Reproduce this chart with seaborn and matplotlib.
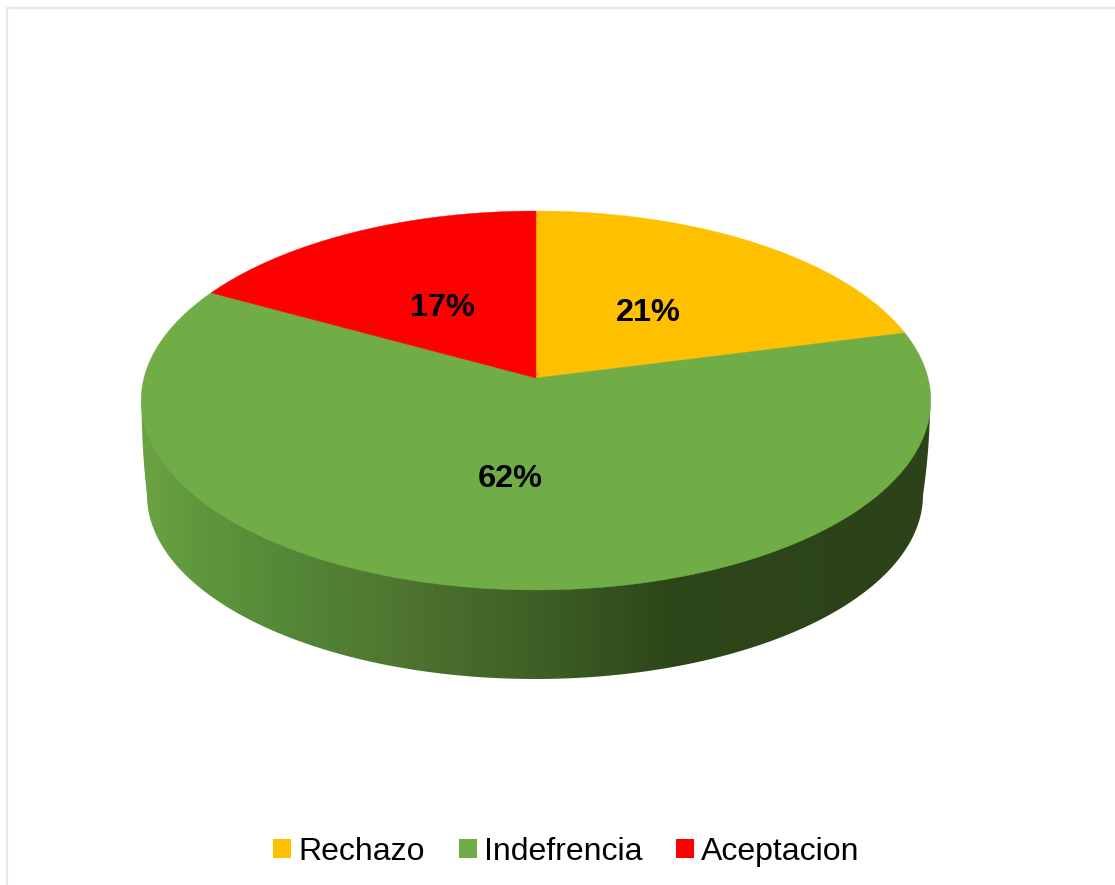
import numpy as np
import matplotlib
matplotlib.use('Agg')
import matplotlib.pyplot as plt
import seaborn as sns
from matplotlib.colors import LinearSegmentedColormap
from matplotlib.patches import Patch, Polygon

categorias = ['Rechazo', 'Indefrencia', 'Aceptacion']
valores = [21, 62, 17]
cores = ['#FFC000', '#70AD47', '#FF0000']

sns.set_theme(style='white')
plt.rcParams['font.family'] = ['Liberation Sans', 'DejaVu Sans']
paleta = sns.color_palette(cores)


def projetar(x, y):
    # perspectiva do disco: o centro da pizza nao fica no centro da elipse
    d = 1 + 0.1187 * y
    return 536 + 392 * x / d, 378 - 186.8 * y / d


fig = plt.figure(figsize=(11.15, 8.85), dpi=100)
ax = fig.add_axes([0, 0, 1, 1])

# a pizza so fornece os angulos de cada fatia
fatias, _ = ax.pie(valores, startangle=90, counterclock=False, colors=paleta)
angulos = [(f.theta1, f.theta2) for f in fatias]
for f in fatias:
    f.remove()
ax.set_aspect('auto')

# lateral com degrade
t = np.radians(np.linspace(180, 360, 200))
s = np.linspace(0, 1, 30)
lado_x = np.r_[141.5 + 5.5 * s**2, 535 + 388 * np.cos(t), 930 - 7 * s[::-1]**2]
lado_y = np.r_[400 + 95 * s, 495 - 184 * np.sin(t), 400 + 95 * s[::-1]]
lado = Polygon(np.c_[lado_x, lado_y], closed=True, transform=ax.transData, fc='none', ec='none')
ax.add_patch(lado)
cmap = LinearSegmentedColormap.from_list('lado', [
    (0.0, '#6BA344'), (0.05, '#629A3E'), (0.2, '#538636'), (0.33, '#4F7530'),
    (0.49, '#3F6126'), (0.67, '#2E4719'), (1.0, '#2C4219')])
img = ax.imshow(np.linspace(0, 1, 400)[None, :], cmap=cmap, aspect='auto',
                extent=(140, 930, 680, 400), zorder=1)
img.set_clip_path(lado)

# topo
for (a1, a2), cor in zip(angulos, paleta):
    th = np.radians(np.linspace(a1, a2, 300))
    px, py = projetar(np.cos(th), np.sin(th))
    px0, py0 = projetar(0, 0)
    ax.add_patch(Polygon(np.c_[np.r_[px0, px], np.r_[py0, py]], closed=True,
                         fc=cor, ec=cor, lw=0.3, zorder=2))

rotulo_pos = [(648, 313), (510, 479), (442, 308)]
for v, (lx, ly) in zip(valores, rotulo_pos):
    ax.text(lx, ly, f'{v}%', ha='center', va='center', fontsize=23.4,
            fontweight='bold', color='black', zorder=3)

# moldura clara
ax.plot([6.5, 6.5, 1115], [885, 8, 8], color='#E6E8EE', lw=1.6, zorder=0)

ax.set_xlim(0, 1115)
ax.set_ylim(885, 0)
ax.axis('off')

alcas = [Patch(facecolor=c, edgecolor='none') for c in paleta]
ax.legend(alcas, categorias, loc='center', bbox_to_anchor=(566.5, 852),
          bbox_transform=ax.transData, ncol=3, frameon=False, fontsize=23,
          handlelength=0.56, handleheight=0.55, handletextpad=0.22,
          columnspacing=1.07, borderpad=0, labelcolor='black')

fig.savefig('out.png', dpi=100, facecolor='white')
plt.close(fig)
